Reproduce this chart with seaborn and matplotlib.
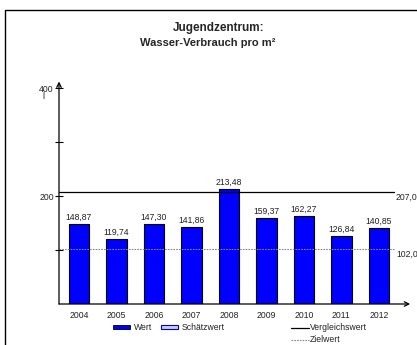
import matplotlib
matplotlib.use("Agg")
import matplotlib.pyplot as plt
import seaborn as sns
import pandas as pd
from matplotlib.patches import Rectangle
from matplotlib.lines import Line2D

years = ["2004", "2005", "2006", "2007", "2008", "2009", "2010", "2011", "2012"]
values = [148.87, 119.74, 147.30, 141.86, 213.48, 159.37, 162.27, 126.84, 140.85]
vergleichswert = 207.0
zielwert = 102.0
yticks = [100, 200, 300, 400]
ytick_labels = ["", "200", "", "400"]

sns.set_theme(style="white")
plt.rcParams["font.family"] = ["Liberation Sans", "DejaVu Sans"]

FS = 6.2
W, H = 417, 345
fig = plt.figure(figsize=(W / 100, H / 100), dpi=100)
ax = fig.add_axes([59 / W, 41 / H, 336 / W, 216 / H])

df = pd.DataFrame({"Jahr": years, "Wert": values})
sns.barplot(data=df, x="Jahr", y="Wert", color="#0000FF", saturation=1,
            edgecolor="black", linewidth=0.8, width=0.55, ax=ax)

ax.set_xlim(-0.53, 8.43)
ax.set_ylim(0, 400)
ax.set_xlabel("")
ax.set_ylabel("")
for s in ax.spines.values():
    s.set_visible(False)

ax.set_yticks(yticks)
ax.set_yticklabels(ytick_labels)
ax.tick_params(axis="y", direction="inout", length=5.5, width=0.8, color="black",
               labelsize=FS, pad=1, left=True)
ax.tick_params(axis="x", length=0, labelsize=FS, pad=5)
for lbl in ax.get_xticklabels() + ax.get_yticklabels():
    lbl.set_color("#222222")

# axes arrows
ax.annotate("", xy=(0, 1.03), xytext=(0, 0), xycoords="axes fraction",
            arrowprops=dict(arrowstyle="->", lw=0.9, color="black",
                            shrinkA=0, shrinkB=0, mutation_scale=8),
            annotation_clip=False)
ax.annotate("", xy=(1.045, 0), xytext=(0, 0), xycoords="axes fraction",
            arrowprops=dict(arrowstyle="->", lw=0.9, color="black",
                            shrinkA=0, shrinkB=0, mutation_scale=8),
            annotation_clip=False)
ax.text(-0.045, 0.96, "l", transform=ax.transAxes, ha="right", va="center",
        fontsize=FS, color="#222222")

# reference lines
ax.axhline(vergleichswert, color="black", lw=0.9)
ax.axhline(zielwert, color="#888888", lw=0.8, ls=(0, (1.5, 1)))
ax.text(1.003, vergleichswert - 2, f"{vergleichswert:.1f}".replace(".", ","),
        transform=ax.get_yaxis_transform(), ha="left", va="top",
        fontsize=FS, color="#222222")
ax.text(1.003, zielwert - 2, f"{zielwert:.1f}".replace(".", ","),
        transform=ax.get_yaxis_transform(), ha="left", va="top",
        fontsize=FS, color="#222222")

# value labels
for i, v in enumerate(values):
    ax.text(i, v + 4, f"{v:.2f}".replace(".", ","), ha="center", va="bottom",
            fontsize=FS, color="#222222")

# title
fig.text(219 / W, 1 - 28 / H, "Jugendzentrum:", ha="center", va="center",
         fontsize=8.5, fontweight="bold")
fig.text(208 / W, 1 - 43 / H, "Wasser-Verbrauch pro m²", ha="center",
         va="center", fontsize=8.0, fontweight="bold")

# frame
fig.add_artist(Rectangle((5 / W, -0.1), 1.1, 1 - 10 / H + 0.1,
                         transform=fig.transFigure, fill=False,
                         edgecolor="black", lw=1.0))

# legend (manual)
fig.add_artist(Rectangle((113 / W, 1 - 329 / H), 17 / W, 4 / H,
                         transform=fig.transFigure, facecolor="#0000FF",
                         edgecolor="black", lw=0.6))
fig.text(134 / W, 1 - 328 / H, "Wert", ha="left", va="center", fontsize=FS,
         color="#222222")
fig.add_artist(Rectangle((161 / W, 1 - 329 / H), 17 / W, 4 / H,
                         transform=fig.transFigure, facecolor="#C8D0F0",
                         edgecolor="#0000CC", lw=0.8))
fig.text(182 / W, 1 - 328 / H, "Schätzwert", ha="left", va="center",
         fontsize=FS, color="#222222")
fig.add_artist(Line2D([291 / W, 309 / W], [1 - 328 / H, 1 - 328 / H],
                      transform=fig.transFigure, color="black", lw=0.9))
fig.text(310 / W, 1 - 327 / H, "Vergleichswert", ha="left", va="center",
         fontsize=FS, color="#222222")
fig.add_artist(Line2D([291 / W, 309 / W], [1 - 340 / H, 1 - 340 / H],
                      transform=fig.transFigure, color="#888888", lw=0.8,
                      ls=(0, (1.5, 1))))
fig.text(310 / W, 1 - 339 / H, "Zielwert", ha="left", va="center",
         fontsize=FS, color="#222222")

fig.savefig("out.png", dpi=100, facecolor="white")
